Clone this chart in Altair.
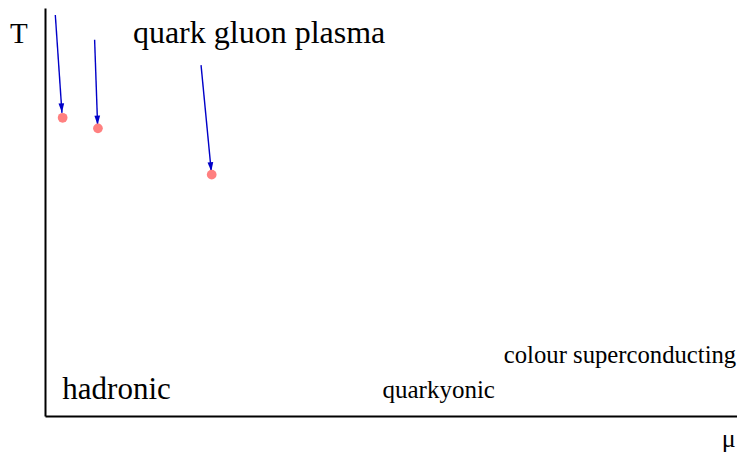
import altair as alt
import pandas as pd
import math

# Data (abstract units: mu 0..100 along axis, T 0..100 along axis)
pt_mu = [2.55, 7.65, 24.09]
pt_T = [73.1, 70.5, 59.15]

arr_mu0 = [1.49, 7.17, 22.55]
arr_T0 = [98.3, 92.2, 86.0]
arr_mu1 = [2.45, 7.60, 24.03]
arr_T1 = [74.3, 71.3, 59.9]

labels = ["T", "quark gluon plasma", "hadronic", "quarkyonic", "colour superconducting", "μ"]
lab_mu = [-5.05, 12.70, 2.50, 48.77, 66.3, 97.8]
lab_T = [91.35, 91.35, 4.09, 4.4, 12.9, -7.5]
lab_size = [29, 32, 31, 25, 24.7, 26]

W, H = 692, 408
PXX, PXY = W / 100.0, H / 100.0

xs = alt.Scale(domain=[0, 100], nice=False, zero=False)
ys = alt.Scale(domain=[0, 100], nice=False, zero=False)

pts = pd.DataFrame({"mu": pt_mu, "T": pt_T})
arrows = pd.DataFrame({"mu0": arr_mu0, "T0": arr_T0, "mu1": arr_mu1, "T1": arr_T1})
arrows["angle"] = [
    (360 - math.degrees(math.atan2((b - a) * PXX, (c - d) * PXY))) % 360
    for a, b, c, d in zip(arr_mu0, arr_mu1, arr_T0, arr_T1)
]
labs = pd.DataFrame({"text": labels, "mu": lab_mu, "T": lab_T, "size": lab_size})

axis_x = alt.Axis(domain=True, domainColor="black", domainWidth=2, ticks=False, labels=False, grid=False, title=None)
axis_y = alt.Axis(domain=True, domainColor="black", domainWidth=2, ticks=False, labels=False, grid=False, title=None)

base_pts = alt.Chart(pts).mark_circle(size=95, color="#ff8080", opacity=1).encode(
    x=alt.X("mu:Q", scale=xs, axis=axis_x),
    y=alt.Y("T:Q", scale=ys, axis=axis_y),
)

lines = alt.Chart(arrows).mark_rule(color="#0000c8", strokeWidth=1.4).encode(
    x="mu0:Q", y="T0:Q", x2="mu1:Q", y2="T1:Q"
)

heads = alt.Chart(arrows).mark_point(
    shape="M0,0 L-0.3,-1 L0.3,-1 Z", filled=True, color="#0000c8", size=360, opacity=1
).encode(
    x="mu1:Q", y="T1:Q", angle=alt.Angle("angle:Q", scale=None)
)

texts = alt.Chart(labs).mark_text(
    font="Liberation Serif", align="left", baseline="alphabetic", color="black"
).encode(
    x="mu:Q", y="T:Q", text="text:N", size=alt.Size("size:Q", scale=None)
)

chart = alt.layer(lines, heads, base_pts, texts).properties(
    width=W, height=H,
    padding={"left": 37, "top": 0, "right": 0, "bottom": 39},
    autosize=alt.AutoSizeParams(type="none"),
).configure(background="white", view=alt.ViewConfig(stroke=None))

chart.save("out.html", embed_options={"renderer": "svg", "actions": False})
